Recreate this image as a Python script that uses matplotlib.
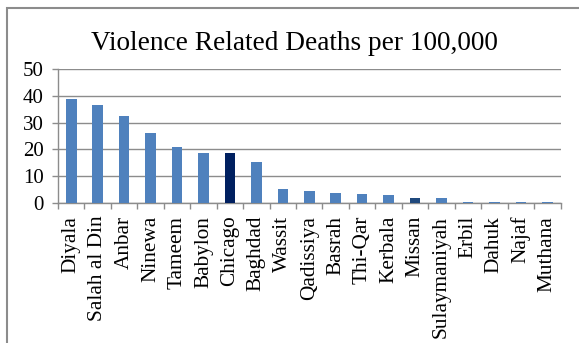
import matplotlib.pyplot as plt
from matplotlib.patches import Rectangle

provinces = ['Diyala', 'Salah al Din', 'Anbar', 'Ninewa', 'Tameem', 'Babylon',
             'Chicago', 'Baghdad', 'Wassit', 'Qadissiya', 'Basrah', 'Thi-Qar',
             'Kerbala', 'Missan', 'Sulaymaniyah', 'Erbil', 'Dahuk', 'Najaf',
             'Muthana']
deaths = [38.9, 36.7, 32.4, 26.3, 21.0, 18.7, 18.7, 15.3, 5.3, 4.5, 3.9,
          3.3, 3.0, 2.1, 2.0, 0.6, 0.6, 0.6, 0.6]

colors = ['#4F81BD'] * len(provinces)
colors[provinces.index('Chicago')] = '#002060'
colors[provinces.index('Missan')] = '#1F497D'

plt.rcParams['font.family'] = ['Liberation Serif', 'DejaVu Serif']

fig = plt.figure(figsize=(5.79, 3.43), dpi=100)
ax = fig.add_axes([58 / 579, 1 - 203.3 / 343, (560.5 - 58) / 579, (203.3 - 68.7) / 343])

x = range(len(provinces))
ax.bar(x, deaths, width=0.4, color=colors, zorder=3)

ax.set_xlim(-0.5, len(provinces) - 0.5)
ax.set_ylim(0, 50)
ax.set_yticks(range(0, 51, 10))
ax.yaxis.grid(True, color='#8c8c8c', linewidth=1.0, zorder=0)

# category labels centred, tick marks on the boundaries between bars
ax.set_xticks(list(x))
ax.set_xticklabels(provinces, rotation=90, fontsize=15.3)
ax.set_xticks([i - 0.5 for i in range(len(provinces) + 1)], minor=True)
ax.tick_params(axis='x', which='major', length=0, pad=9)
ax.tick_params(axis='x', which='minor', length=4, color='#8c8c8c', width=1)
ax.tick_params(axis='y', length=4.3, color='#8c8c8c', width=1, pad=6, labelsize=15)
for lbl in ax.get_xticklabels():
    lbl.set_x(lbl.get_position()[0] + 0.06)

for s in ['top', 'right']:
    ax.spines[s].set_visible(False)
for s in ['left', 'bottom']:
    ax.spines[s].set_color('#8c8c8c')
    ax.spines[s].set_linewidth(1)

fig.text(294 / 579, 1 - 44 / 343, 'Violence Related Deaths per 100,000',
         fontsize=19.6, ha='center', va='center')

# chart frame
fig.patches.append(Rectangle((7 / 579, -0.1), 1.1, 1 - 8 / 343 + 0.1,
                             transform=fig.transFigure, fill=False,
                             edgecolor='#8c8c8c', linewidth=1.5))

fig.savefig('out.png', dpi=100)
